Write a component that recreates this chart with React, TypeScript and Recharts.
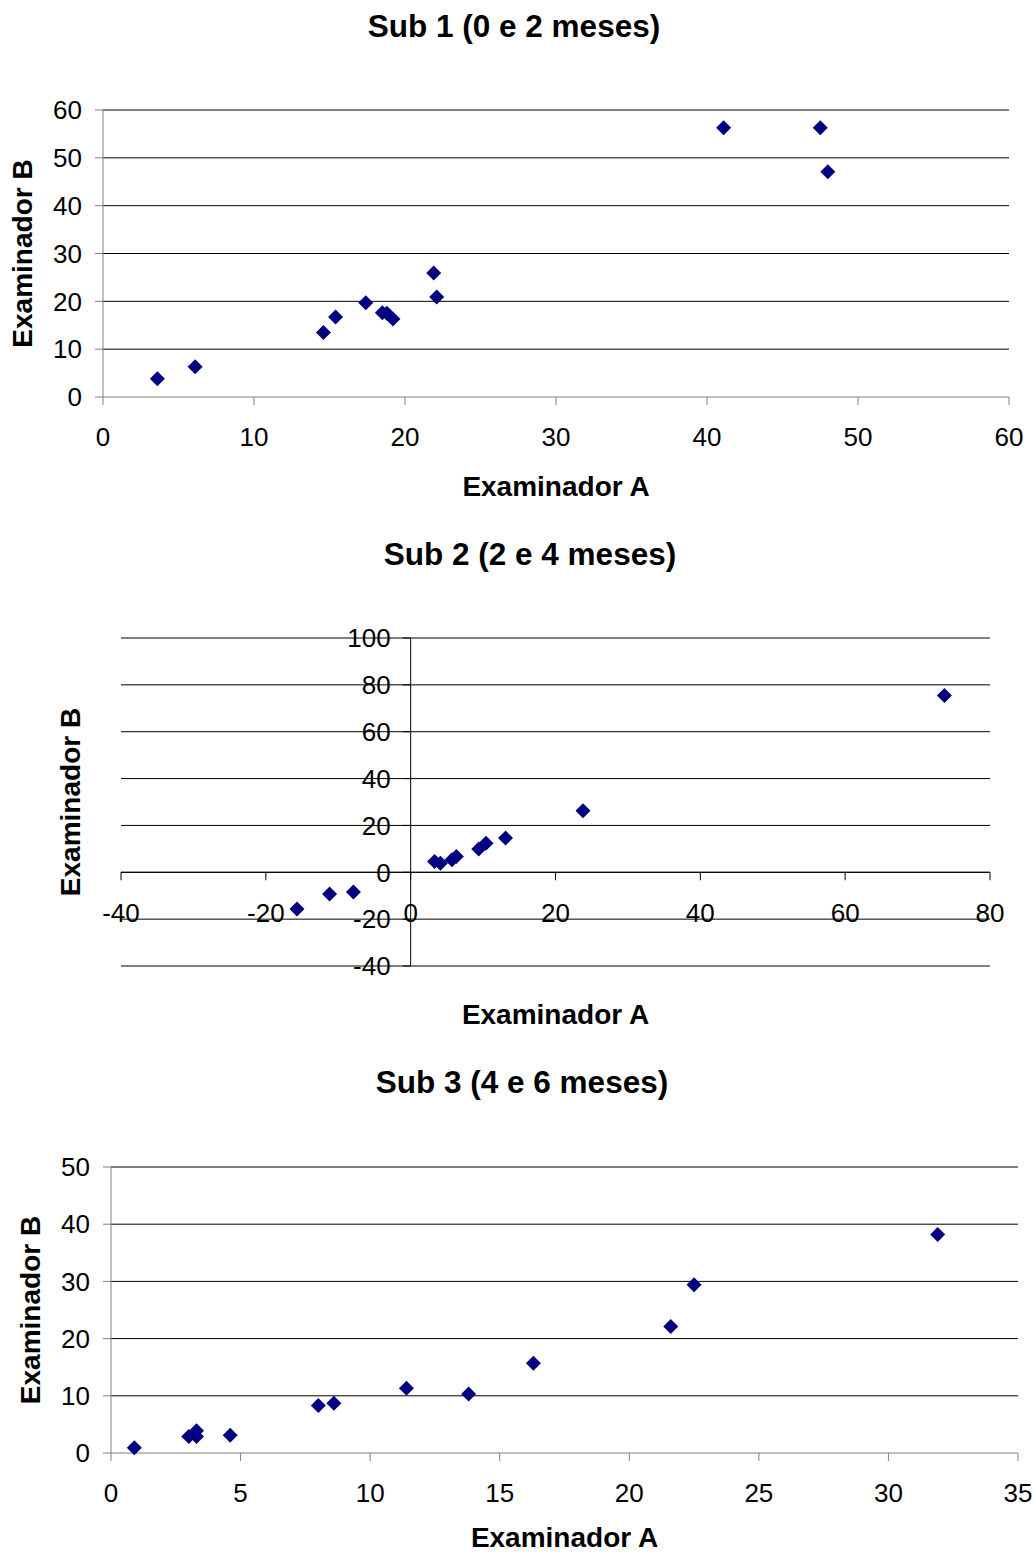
import React from "react";
import { CartesianGrid, ReferenceLine, Scatter, ScatterChart, XAxis, YAxis } from "recharts";

const FONT = '"Liberation Sans", Arial, Helvetica, sans-serif';
const NAVY = "#000080";
const AXIS_GREY = "#808080";

// Sub 1 (0 e 2 meses)
const sub1A = [3.6, 6.1, 14.6, 15.4, 17.4, 18.5, 18.8, 19.2, 21.9, 22.1, 41.1, 47.5, 48.0];
const sub1B = [3.8, 6.3, 13.5, 16.7, 19.7, 17.6, 17.5, 16.3, 25.9, 20.9, 56.3, 56.3, 47.1];
const sub1XTicks = [0, 10, 20, 30, 40, 50, 60];
const sub1YTicks = [0, 10, 20, 30, 40, 50, 60];

// Sub 2 (2 e 4 meses)
const sub2A = [-15.7, -11.2, -7.9, 3.3, 4.1, 5.7, 6.3, 9.4, 10.4, 13.1, 23.8, 73.7];
const sub2B = [-15.7, -9.3, -8.4, 4.6, 3.9, 5.3, 6.7, 9.9, 12.4, 14.6, 26.3, 75.5];
const sub2XTicks = [-40, -20, 0, 20, 40, 60, 80];
const sub2YTicks = [-40, -20, 0, 20, 40, 60, 80, 100];

// Sub 3 (4 e 6 meses)
const sub3A = [0.9, 3.0, 3.3, 3.3, 4.6, 8.0, 8.6, 11.4, 13.8, 16.3, 21.6, 22.5, 31.9];
const sub3B = [0.9, 2.9, 3.9, 2.9, 3.1, 8.3, 8.7, 11.3, 10.3, 15.7, 22.1, 29.4, 38.2];
const sub3XTicks = [0, 5, 10, 15, 20, 25, 30, 35];
const sub3YTicks = [0, 10, 20, 30, 40, 50];

const toPoints = (a: number[], b: number[]) => a.map((x, i) => ({ x, y: b[i] }));

const Diamond = (props: any) => {
  const { cx, cy } = props;
  const r = 7.5;
  return (
    <polygon
      points={`${cx},${cy - r} ${cx + r},${cy} ${cx},${cy + r} ${cx - r},${cy}`}
      fill={NAVY}
    />
  );
};

const tickStyle = { fill: "#000", fontSize: 26, fontFamily: FONT };
const axisTitleStyle = { fill: "#000", fontSize: 28, fontWeight: "bold", fontFamily: FONT, textAnchor: "middle" as const };

function Title({ text, cx, cy }: { text: string; cx: number; cy: number }) {
  return (
    <div
      style={{
        position: "absolute",
        left: cx - 300,
        top: cy - 15.4,
        width: 600,
        textAlign: "center",
        fontFamily: FONT,
        fontWeight: "bold",
        fontSize: 31.5,
        lineHeight: "31.5px",
        whiteSpace: "nowrap",
      }}
    >
      {text}
    </div>
  );
}

type StdProps = {
  top: number;
  height: number;
  margin: { top: number; right: number; bottom: number; left: number };
  yAxisWidth: number;
  xAxisHeight: number;
  xTicks: number[];
  yTicks: number[];
  data: { x: number; y: number }[];
  xLabelOffset: number;
  yLabelOffset: number;
};

function StdScatter(p: StdProps) {
  const xDomain = [p.xTicks[0], p.xTicks[p.xTicks.length - 1]];
  const yDomain = [p.yTicks[0], p.yTicks[p.yTicks.length - 1]];
  return (
    <div style={{ position: "absolute", left: 0, top: p.top }}>
      <ScatterChart width={1036} height={p.height} margin={p.margin}>
        <CartesianGrid vertical={false} stroke="#000" horizontalValues={p.yTicks.slice(1)} />
        <XAxis
          type="number"
          dataKey="x"
          domain={xDomain}
          ticks={p.xTicks}
          height={p.xAxisHeight}
          axisLine={{ stroke: AXIS_GREY }}
          tickLine={{ stroke: AXIS_GREY }}
          tickSize={8}
          tickMargin={23}
          tick={tickStyle}
          interval={0}
          label={{ value: "Examinador A", position: "insideBottom", offset: p.xLabelOffset, style: axisTitleStyle }}
        />
        <YAxis
          type="number"
          dataKey="y"
          domain={yDomain}
          ticks={p.yTicks}
          width={p.yAxisWidth}
          axisLine={{ stroke: AXIS_GREY }}
          tickLine={{ stroke: AXIS_GREY }}
          tickSize={8}
          tickMargin={13}
          tick={tickStyle}
          interval={0}
          label={{ value: "Examinador B", angle: -90, position: "insideLeft", offset: p.yLabelOffset, style: axisTitleStyle }}
        />
        <Scatter data={p.data} shape={Diamond} isAnimationActive={false} />
      </ScatterChart>
    </div>
  );
}

// Sub 2 has its axes crossing at zero
const S2_W = 869;
const S2_H = 328;
const S2_ZERO_X = (S2_W * (0 - sub2XTicks[0])) / (sub2XTicks[sub2XTicks.length - 1] - sub2XTicks[0]);
const S2_ZERO_FROM_BOTTOM = (S2_H * (0 - sub2YTicks[0])) / (sub2YTicks[sub2YTicks.length - 1] - sub2YTicks[0]);

const Sub2XTick = (props: any) => {
  const { x, y, payload } = props;
  const zy = y - S2_ZERO_FROM_BOTTOM;
  return (
    <g>
      <line x1={x} x2={x} y1={zy} y2={zy + 8} stroke="#000" />
      <text x={x} y={zy + 31} dy="0.71em" textAnchor="middle" {...tickStyle}>
        {payload.value}
      </text>
    </g>
  );
};

const Sub2YTick = (props: any) => {
  const { x, y, payload } = props;
  const zx = x + S2_ZERO_X;
  return (
    <g>
      <line x1={zx - 8} x2={zx} y1={y} y2={y} stroke="#000" />
      <text x={zx - 20} y={y} dy="0.355em" textAnchor="end" {...tickStyle}>
        {payload.value}
      </text>
    </g>
  );
};

function Sub2Chart() {
  return (
    <div style={{ position: "absolute", left: 0, top: 520 }}>
      <ScatterChart width={1036} height={530} margin={{ top: 118, right: 46, bottom: 14, left: 3 }}>
        <CartesianGrid vertical={false} stroke="#000" />
        <XAxis
          type="number"
          dataKey="x"
          domain={[sub2XTicks[0], sub2XTicks[sub2XTicks.length - 1]]}
          ticks={sub2XTicks}
          height={70}
          axisLine={false}
          tickLine={false}
          tickSize={0}
          tickMargin={0}
          tick={Sub2XTick}
          interval={0}
          label={{ value: "Examinador A", position: "insideBottom", offset: 12, style: axisTitleStyle }}
        />
        <YAxis
          type="number"
          dataKey="y"
          domain={[sub2YTicks[0], sub2YTicks[sub2YTicks.length - 1]]}
          ticks={sub2YTicks}
          width={118}
          axisLine={false}
          tickLine={false}
          tickSize={0}
          tickMargin={0}
          tick={Sub2YTick}
          interval={0}
          label={{ value: "Examinador B", angle: -90, position: "insideLeft", offset: 67, style: axisTitleStyle }}
        />
        <ReferenceLine x={0} stroke="#000" />
        <ReferenceLine y={0} stroke="#000" />
        <Scatter data={toPoints(sub2A, sub2B)} shape={Diamond} isAnimationActive={false} />
      </ScatterChart>
    </div>
  );
}

export default function App() {
  return (
    <div style={{ position: "absolute", left: 0, top: 0, width: 1036, height: 1555, background: "#fff" }}>
      <Title text="Sub 1 (0 e 2 meses)" cx={514} cy={26} />
      <StdScatter
        top={0}
        height={520}
        margin={{ top: 110, right: 27, bottom: 13, left: 3 }}
        yAxisWidth={100}
        xAxisHeight={110}
        xTicks={sub1XTicks}
        yTicks={sub1YTicks}
        data={toPoints(sub1A, sub1B)}
        xLabelOffset={11}
        yLabelOffset={19}
      />
      <Title text="Sub 2 (2 e 4 meses)" cx={530} cy={554} />
      <Sub2Chart />
      <Title text="Sub 3 (4 e 6 meses)" cx={522} cy={1082} />
      <StdScatter
        top={1050}
        height={505}
        margin={{ top: 117, right: 18, bottom: 2, left: 3 }}
        yAxisWidth={108}
        xAxisHeight={100}
        xTicks={sub3XTicks}
        yTicks={sub3YTicks}
        data={toPoints(sub3A, sub3B)}
        xLabelOffset={6}
        yLabelOffset={27}
      />
    </div>
  );
}
